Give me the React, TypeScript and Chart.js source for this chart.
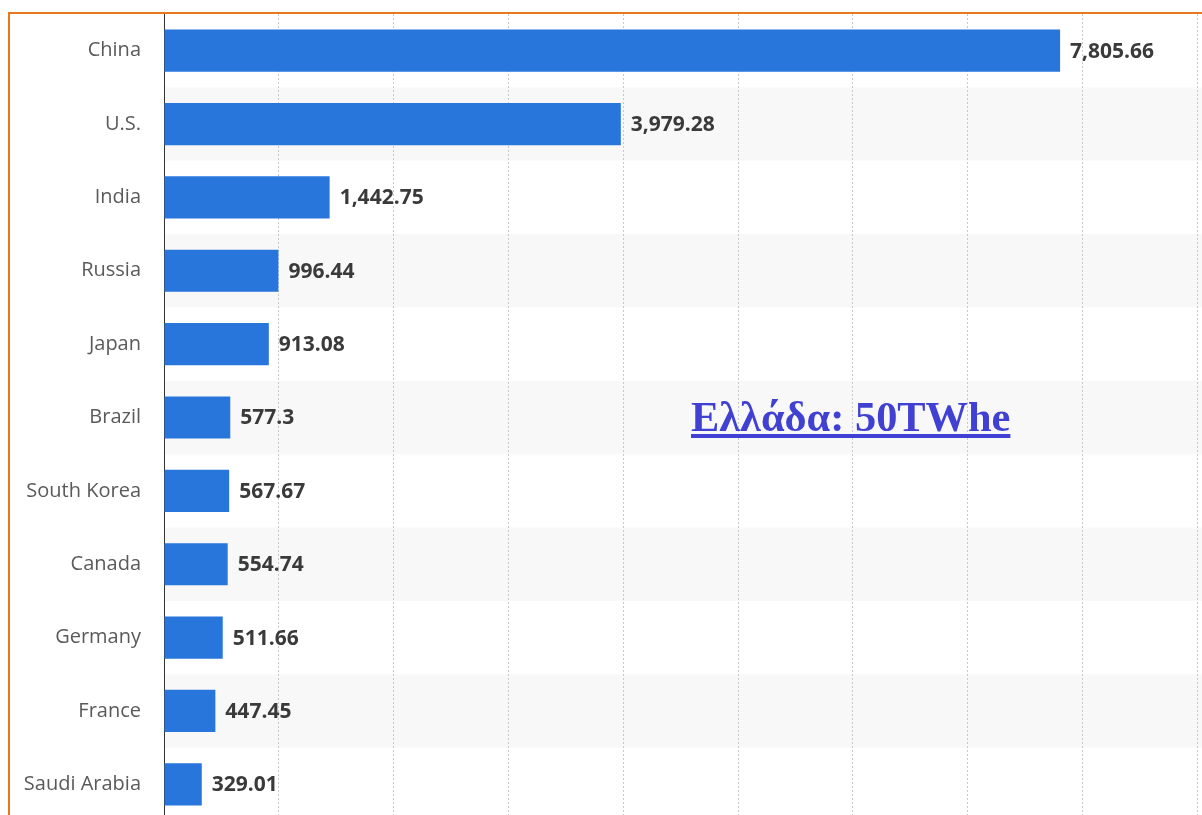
import React, { useEffect, useRef } from "react";
import { Chart, registerables } from "chart.js";

Chart.register(...registerables);

const categories = [
  "China",
  "U.S.",
  "India",
  "Russia",
  "Japan",
  "Brazil",
  "South Korea",
  "Canada",
  "Germany",
  "France",
  "Saudi Arabia",
];
const values = [7805.66, 3979.28, 1442.75, 996.44, 913.08, 577.3, 567.67, 554.74, 511.66, 447.45, 329.01];
const xMin = 0;
const xMax = 10000;
const xStep = 1000;
const noteText = "Ελλάδα: 50TWhe";

const fmt = (v: number) => v.toLocaleString("en-US", { maximumFractionDigits: 2 });

const bandPlugin = {
  id: "bands",
  beforeDraw(chart: any) {
    const { ctx, chartArea, scales } = chart;
    const y = scales.y;
    const n = categories.length;
    const h = (chartArea.bottom - chartArea.top) / n;
    ctx.save();
    ctx.fillStyle = "#f8f8f8";
    for (let i = 1; i < n; i += 2) {
      const c = y.getPixelForValue(i);
      ctx.fillRect(chartArea.left, c - h / 2, chartArea.right - chartArea.left, h);
    }
    ctx.restore();
  },
};

const valueLabelPlugin = {
  id: "valueLabels",
  afterDatasetsDraw(chart: any) {
    const { ctx } = chart;
    const meta = chart.getDatasetMeta(0);
    ctx.save();
    ctx.font = "bold 21px 'Open Sans', sans-serif";
    ctx.fillStyle = "#3a3a3a";
    ctx.textAlign = "left";
    ctx.textBaseline = "middle";
    meta.data.forEach((bar: any, i: number) => {
      ctx.fillText(fmt(values[i]), bar.x + 10, bar.y + 1);
    });
    ctx.restore();
  },
};

export default function App() {
  const ref = useRef<HTMLCanvasElement | null>(null);
  useEffect(() => {
    if (!ref.current) return;
    const chart = new Chart(ref.current, {
      type: "bar",
      data: {
        labels: categories,
        datasets: [
          {
            data: values,
            backgroundColor: "#2875db",
            borderWidth: 0,
            categoryPercentage: 1,
            barPercentage: 0.575,
          },
        ],
      },
      options: {
        indexAxis: "y",
        animation: false,
        responsive: false,
        maintainAspectRatio: false,
        layout: { padding: { top: 0, right: 58, bottom: 0, left: 0 } },
        plugins: {
          legend: { display: false },
          tooltip: { enabled: false },
        },
        scales: {
          x: {
            min: xMin,
            max: xMax,
            ticks: {
              stepSize: xStep,
              color: "#555",
              font: { family: "'Open Sans', sans-serif", size: 17 },
              callback: (v: any) => fmt(Number(v)),
            },
            grid: { color: "#c8c8c8", lineWidth: 1, drawTicks: false },
            border: { display: false, dash: [2, 2] },
            afterFit: (s: any) => {
              s.height = 40;
            },
          },
          y: {
            ticks: {
              color: "#5a5a5a",
              padding: 23,
              font: { family: "'Open Sans', sans-serif", size: 20 },
            },
            grid: { display: false, drawTicks: false },
            border: { display: true, color: "#333", width: 1 },
            afterFit: (s: any) => {
              s.width = 154;
              s.paddingTop = 0;
              s.paddingBottom = 0;
            },
          },
        },
      },
      plugins: [bandPlugin, valueLabelPlugin],
    } as any);
    return () => chart.destroy();
  }, []);

  return (
    <div
      style={{
        position: "fixed",
        left: 0,
        top: 0,
        width: "100vw",
        height: "100vh",
        overflow: "hidden",
        background: "#fff",
      }}
    >
      <div
        style={{
          position: "absolute",
          left: 8,
          top: 12,
          border: "2px solid #e8771e",
          width: 1360,
          height: 847,
        }}
      >
        <canvas ref={ref} width={1360} height={847} style={{ display: "block", width: 1360, height: 847 }} />
      </div>
      <div
        style={{
          position: "absolute",
          left: 691,
          top: 396,
          fontFamily: "'Liberation Serif', 'Times New Roman', serif",
          fontWeight: "bold",
          fontSize: 42.4,
          lineHeight: "42px",
          color: "#4040d2",
          textDecoration: "underline",
          whiteSpace: "nowrap",
        }}
      >
        {noteText}
      </div>
    </div>
  );
}
